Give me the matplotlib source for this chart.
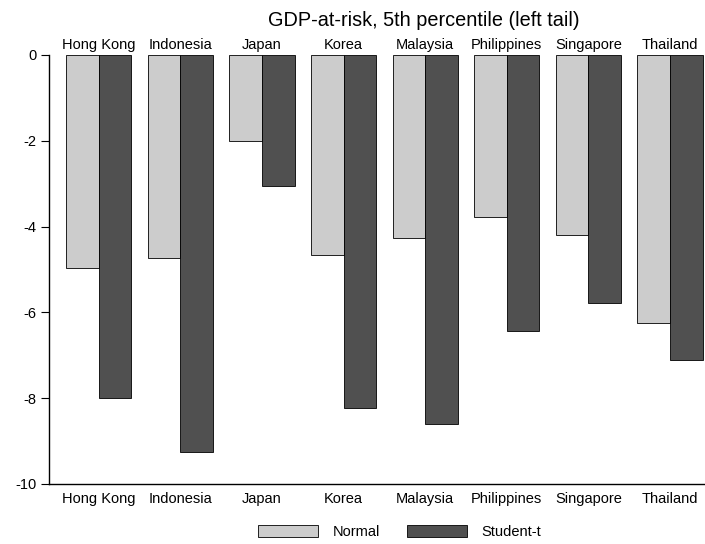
import matplotlib
matplotlib.use("Agg")
import matplotlib.pyplot as plt
import numpy as np
from matplotlib.patches import Patch

plt.rcParams["font.family"] = ["Liberation Sans", "DejaVu Sans"]

# GDP-at-risk, 5th percentile, by economy
countries = ["Hong Kong", "Indonesia", "Japan", "Korea", "Malaysia",
             "Philippines", "Singapore", "Thailand"]
normal    = [-4.97, -4.73, -2.01, -4.66, -4.27, -3.78, -4.19, -6.25]
student_t = [-8.00, -9.25, -3.06, -8.24, -8.60, -6.43, -5.78, -7.10]
y_ticks   = [0, -2, -4, -6, -8, -10]

LIGHT = "#cccccc"
DARK  = "#505050"
FS = 10.5

fig = plt.figure(figsize=(7.05, 5.44), dpi=100)
ax = fig.add_axes([0.0695, 0.1103, 0.9305, 0.7886])

x = np.arange(len(countries))
w = 0.4
ax.bar(x - w / 2, normal, width=w, color=LIGHT, edgecolor="black", linewidth=0.6)
ax.bar(x + w / 2, student_t, width=w, color=DARK, edgecolor="black", linewidth=0.6)

ax.set_xlim(-0.61, 7.43)
ax.set_ylim(-10, 0)
ax.set_yticks(y_ticks)
ax.set_yticklabels([str(v) for v in y_ticks])
ax.tick_params(axis="y", direction="out", length=6, width=0.8, labelsize=FS, pad=3)

ax.set_xticks(x)
ax.set_xticklabels(countries)
ax.tick_params(axis="x", length=0, labelsize=FS, pad=6)

top = ax.secondary_xaxis("top")
top.set_xticks(x)
top.set_xticklabels(countries)
top.tick_params(axis="x", length=0, labelsize=FS, pad=2)
top.spines["top"].set_visible(False)

for side in ("top", "right"):
    ax.spines[side].set_visible(False)
ax.spines["left"].set_linewidth(1.0)
ax.spines["bottom"].set_linewidth(1.0)

fig.text(0.601, 0.962, "GDP-at-risk, 5th percentile (left tail)",
         ha="center", va="center", fontsize=14.3)

handles = [Patch(facecolor=LIGHT, edgecolor="black", linewidth=0.6, label="Normal"),
           Patch(facecolor=DARK, edgecolor="black", linewidth=0.6, label="Student-t")]
fig.legend(handles=handles, loc="center", bbox_to_anchor=(0.567, 0.022), ncol=2,
           frameon=False, fontsize=FS, handlelength=4.1, handleheight=0.9,
           columnspacing=1.85, handletextpad=1.0)

fig.savefig("out.png", dpi=100)
